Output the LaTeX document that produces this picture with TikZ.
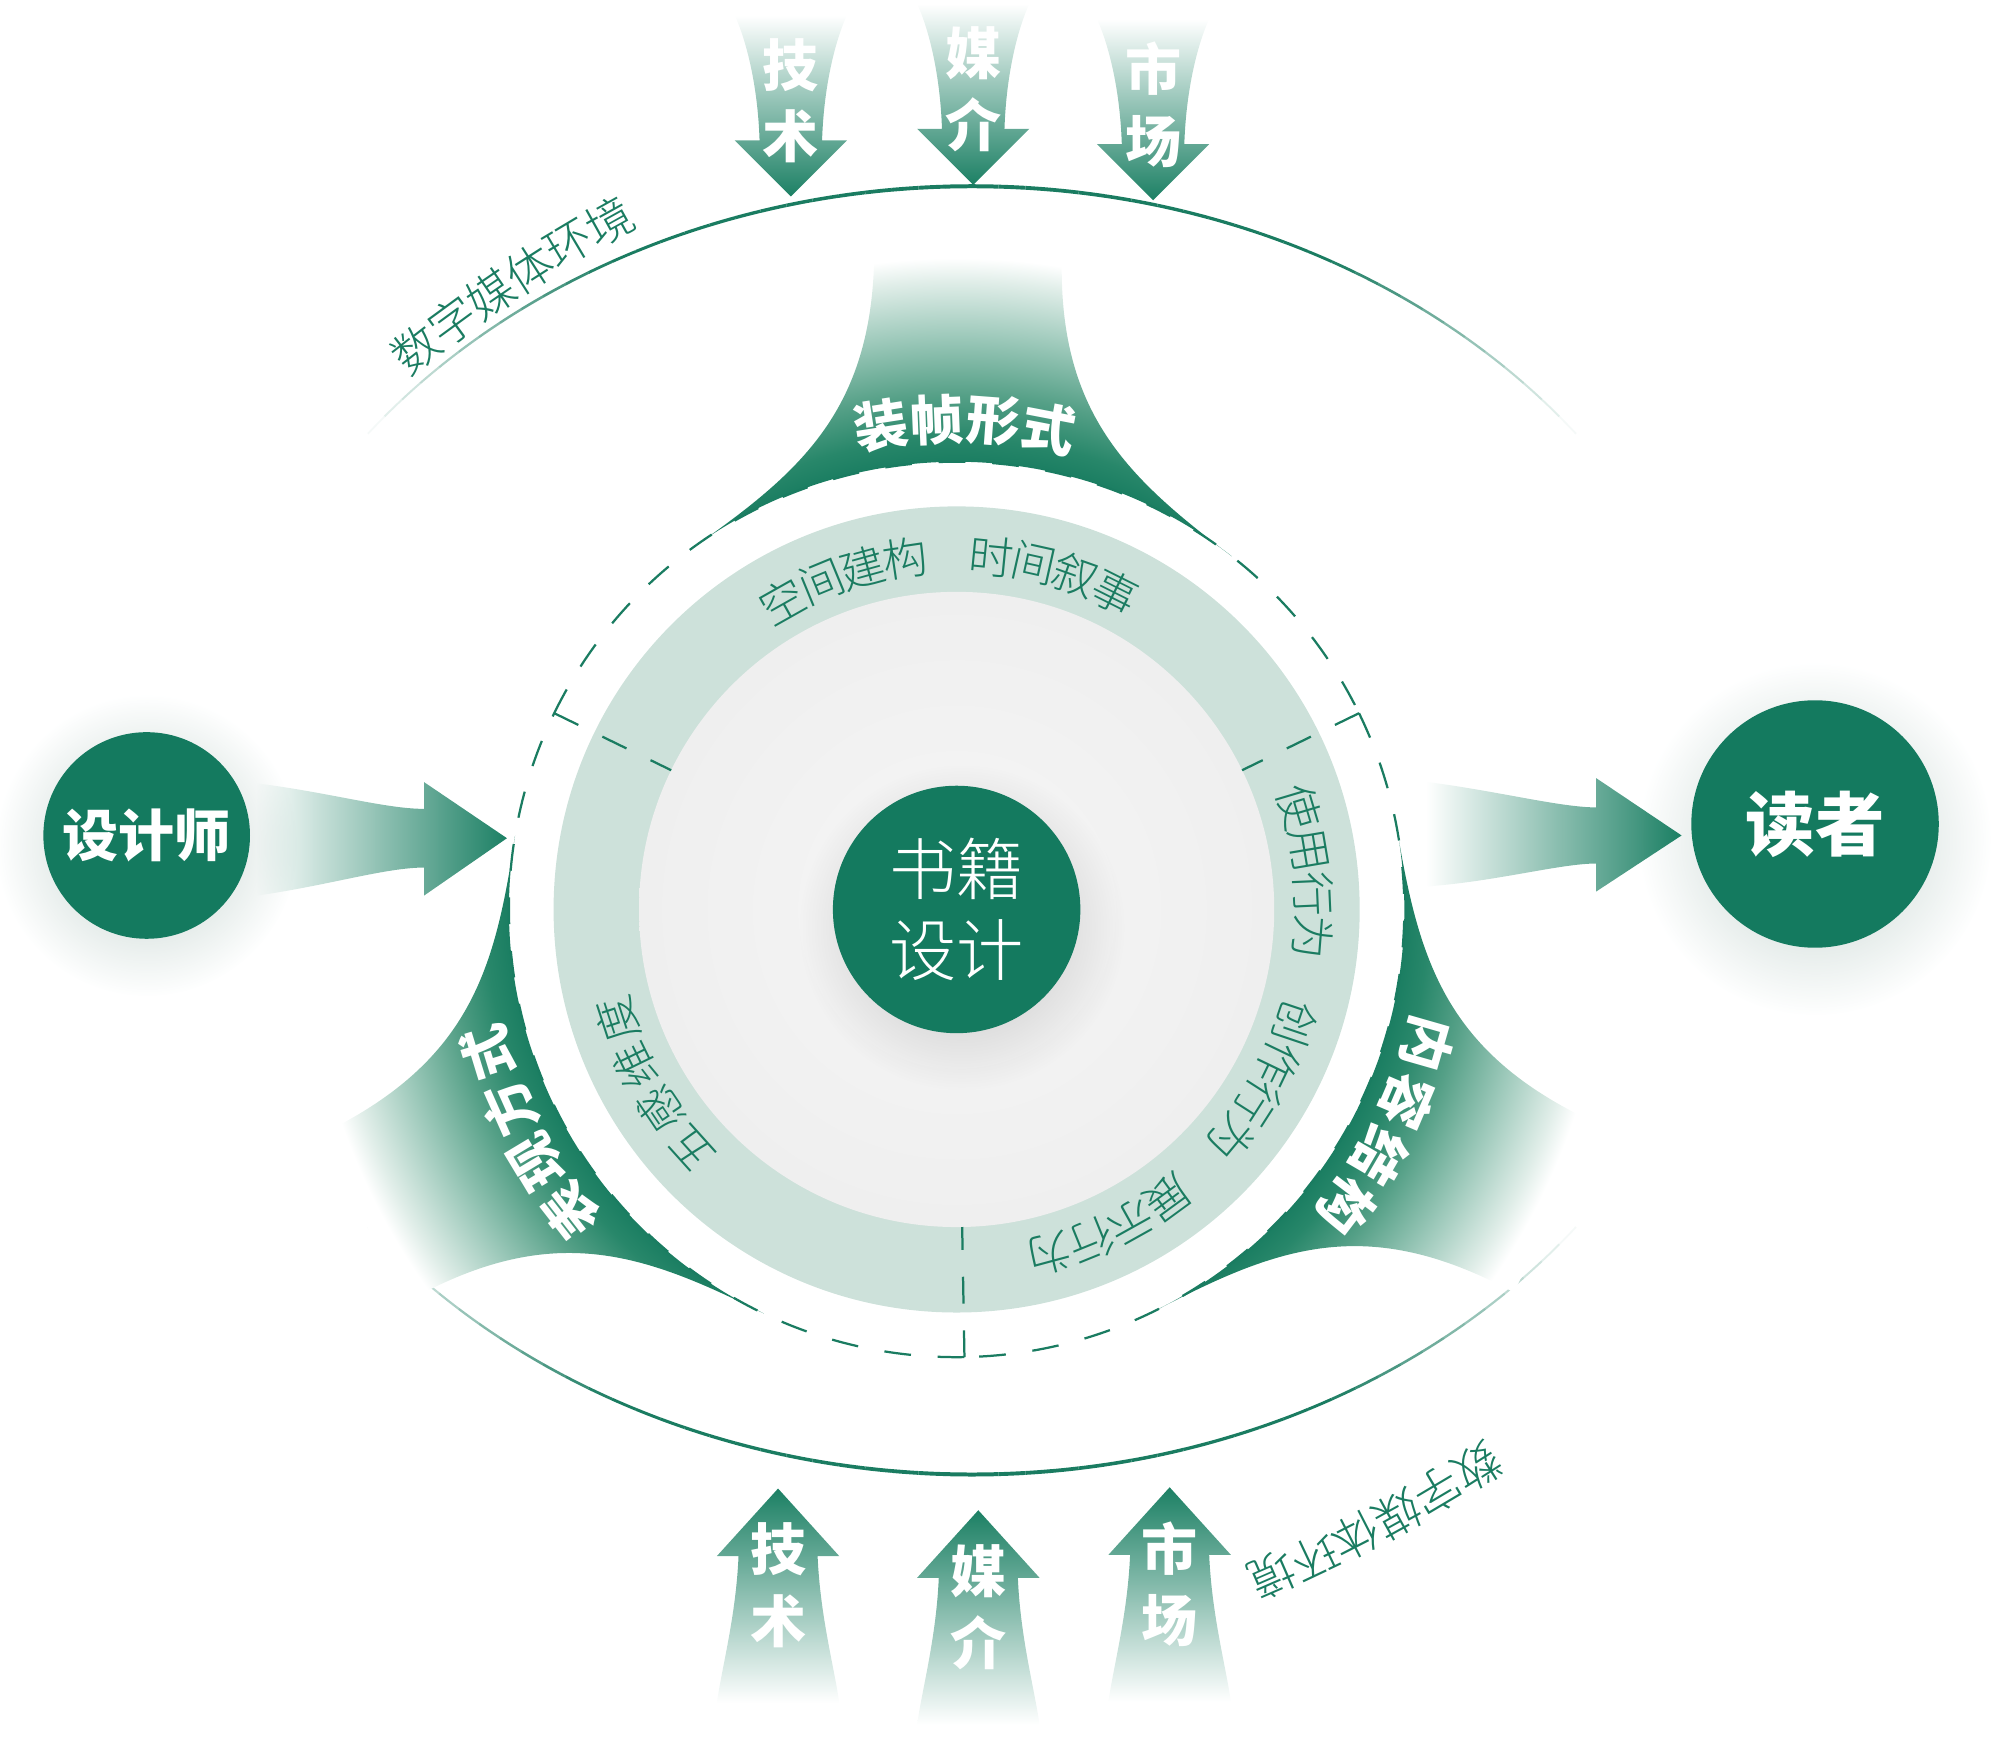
\documentclass[tikz,border=0pt]{standalone}
\usepackage{fontspec}
\setmainfont{Noto Sans CJK SC}
\newfontfamily\cjk{Noto Sans CJK SC}
\newfontfamily\cjklight{Noto Sans CJK SC Light}
\usetikzlibrary{calc,fadings}
\definecolor{hubgreen}{RGB}{20,122,95}
\definecolor{linegreen}{RGB}{26,124,97}
\definecolor{arrowgreen}{RGB}{28,128,100}
\definecolor{ringc}{RGB}{205,225,218}
\definecolor{discin}{RGB}{246,246,246}
\definecolor{discout}{RGB}{239,239,239}
\definecolor{haloc}{RGB}{125,160,150}
\definecolor{fanA}{RGB}{24,124,96}
\definecolor{fanB}{RGB}{40,135,106}
\definecolor{fanC}{RGB}{85,160,135}
\definecolor{fanD}{RGB}{155,200,185}
\definecolor{fanE}{RGB}{225,238,233}
\pgfdeclareradialshading{fanfade}{\pgfpointorigin}{color(0bp)=(fanA); color(15.5bp)=(fanA);
  color(16.5bp)=(fanB); color(18bp)=(fanC); color(20bp)=(fanD); color(22bp)=(fanE);
  color(22.8bp)=(white); color(50bp)=(white)}
\tikzfading[name=halofade, inner color=transparent!0, outer color=transparent!100]
\tikzfading[name=fromleft, left color=transparent!100, right color=transparent!0]
% characters set round a centre, read clockwise, tops outward
\newcommand\arctext[7]{%
  \foreach \ch [count=\k from 0] in {#6}{%
    \pgfmathsetmacro\chang{#3-\k*(#4)}%
    \node[#5, rotate=\chang-90] (#7\k) at ($(#1)+(\chang:#2)$) {\ch};}}

\begin{document}
\begin{tikzpicture}[x=0.1mm, y=0.1mm,
    hub/.style={circle, fill=hubgreen, text=white, inner sep=0pt},
    env/.style={draw=linegreen, line cap=butt},
    envtxt/.style={text=linegreen, inner sep=0pt, font=\cjklight\fontsize{10.5}{10.5}\selectfont},
    ringtxt/.style={text=linegreen, inner sep=0pt, font=\cjklight\fontsize{10}{10}\selectfont},
    fantxt/.style={text=white, inner sep=0pt, font=\cjk\bfseries\fontsize{12}{12}\selectfont},
    arrtxt/.style={text=white, inner sep=0pt, align=center, font=\cjk\bfseries\fontsize{12.5}{16}\selectfont},
    dashline/.style={draw=linegreen, line width=0.5pt, dash pattern=on 2.1mm off 2.1mm}]

  \useasboundingbox (0,0) rectangle (1568,-1369);
  \coordinate (C) at (750,-713);
  \coordinate (E) at (762,-651);
  \coordinate (Q1) at (1039.6,-1187);
  \coordinate (Q2) at (535.3,-172.5);

  % digital media environment
  \foreach \s in {38,40,...,140}{
    \pgfmathsetmacro\dist{abs(\s+1-90)}
    \pgfmathsetmacro\op{min(1,max(0,(52-\dist)/24))}
    \pgfmathsetmacro\lw{0.9-0.5*\dist/52}
    \draw[env, line width=\lw pt, draw opacity=\op] (E) ++(\s:601 and 505)
      arc[start angle=\s, end angle=\s+2, x radius=601, y radius=505];
  }
  \foreach \s in {218,220,...,320}{
    \pgfmathsetmacro\dist{abs(\s+1-270)}
    \pgfmathsetmacro\op{min(1,max(0,(52-\dist)/24))}
    \pgfmathsetmacro\lw{0.9-0.5*\dist/52}
    \draw[env, line width=\lw pt, draw opacity=\op] (E) ++(\s:601 and 505)
      arc[start angle=\s, end angle=\s+2, x radius=601, y radius=505];
  }
  \arctext{Q1}{1159}{128}{1.8}{envtxt}{数,字,媒,体,环,境}{envt}
  \arctext{Q2}{1159}{302.5}{1.8}{envtxt}{数,字,媒,体,环,境}{envb}

  % technology, media, market
  \foreach \tx/\ty/\first/\second [count=\i] in {620/154/技/术, 763/145/媒/介, 904/157/市/场}{
    \begin{scope}[shift={(\tx,-\ty)}]
      \shade[top color=white, bottom color=arrowgreen] (0,0) -- (-44,44) -- (-24.5,44)
        .. controls (-26,90) and (-36,125) .. (-44,142) -- (44,142)
        .. controls (36,125) and (26,90) .. (24.5,44) -- (44,44) -- cycle;
      \node[arrtxt] (down\i) at (0,75) {\first\\\second};
    \end{scope}
  }
  \foreach \tx/\ty/\first/\second [count=\i] in {610/1167/技/术, 767/1184/媒/介, 917/1166/市/场}{
    \begin{scope}[shift={(\tx,-\ty)}]
      \shade[top color=arrowgreen, bottom color=white] (0,0) -- (-48,-53) -- (-31,-53)
        .. controls (-33,-100) and (-44,-140) .. (-48,-168) -- (48,-168)
        .. controls (44,-140) and (33,-100) .. (31,-53) -- (48,-53) -- cycle;
      \node[arrtxt] (up\i) at (0,-76) {\first\\\second};
    \end{scope}
  }

  % three fans
  \foreach \f in {89,207.5,333.5}{
    \begin{scope}
      \clip ($(C)+(\f+37:351)$) .. controls ($(C)+(\f+20:365)$) and ($(C)+(\f+10:400)$) .. ($(C)+(\f+8:530)$)
        -- ($(C)+(\f-8:530)$) .. controls ($(C)+(\f-10:400)$) and ($(C)+(\f-20:365)$) .. ($(C)+(\f-37:351)$)
        arc[start angle=\f-37, end angle=\f+37, radius=351] -- cycle;
      \shade[shading=fanfade] (C) circle (560);
    \end{scope}
  }
  \arctext{C}{384}{98.9}{6.6}{fantxt}{装,帧,形,式}{bind}
  \arctext{C}{384}{218}{7}{fantxt}{表,现,方,式}{expr}
  \arctext{C}{384}{-16}{7.1}{fantxt}{内,容,结,构}{cont}

  % ring and disc
  \fill[ringc] (C) circle (316);
  \shade[inner color=discin, outer color=discout] (C) circle (249);
  \arctext{C}{278}{119.4}{7}{ringtxt}{空,间,建,构,{},时,间,叙,事}{space}
  \arctext{C}{280}{16.6}{7.04}{ringtxt}{使,用,行,为,{},创,作,行,为,{},展,示,行,为}{act}
  \arctext{C}{280}{222}{8}{ringtxt}{五,感,维,度}{sense}

  % dashed frame
  \foreach \a in {154,26,271}
    \draw[dashline] ($(C)+(\a:351)$) -- ($(C)+(\a:249)$);
  \draw[dashline] ($(C)+(154:351)$) arc[start angle=154, end angle=26, radius=351];
  \draw[dashline] ($(C)+(26:351)$) arc[start angle=26, end angle=-89, radius=351];
  \draw[dashline] ($(C)+(271:351)$) arc[start angle=271, end angle=154, radius=351];

  % designer
  \coordinate (dpos) at (115,-655);
  \fill[haloc, fill opacity=.5, path fading=halofade] ($(dpos)+(0,-8)$) circle (118);
  \node[hub, minimum size=16.2mm, font=\cjk\bfseries\fontsize{12.5}{12.5}\selectfont] (designer) at (dpos) {设计师};
  \coordinate (inL) at ($(C)+(171:357)$);
  \begin{scope}[shift={(inL)}]
    \fill[arrowgreen, path fading=fromleft] (-196,43) .. controls (-140,36) and (-95,23) .. (-65,23)
      -- (-65,44) -- (0,0) -- (-65,-45) -- (-65,-23) .. controls (-95,-23) and (-140,-37) .. (-196,-45) -- cycle;
  \end{scope}

  % reader
  \coordinate (rpos) at (1423,-646);
  \fill[haloc, fill opacity=.5, path fading=halofade] ($(rpos)+(0,-12)$) circle (138);
  \node[hub, minimum size=19.4mm, font=\cjk\bfseries\fontsize{15.5}{15.5}\selectfont] (reader) at (rpos) {读者};
  \coordinate (inR) at ($(reader.west)+(-7,-9)$);
  \begin{scope}[shift={(inR)}]
    \fill[arrowgreen, path fading=fromleft] (-200,42) .. controls (-145,35) and (-95,22) .. (-67,22)
      -- (-67,45) -- (0,0) -- (-67,-44) -- (-67,-22) .. controls (-95,-22) and (-145,-36) .. (-200,-40) -- cycle;
  \end{scope}

  % book design
  \fill[black, fill opacity=.22, path fading=halofade] ($(C)+(4,-14)$) circle (128);
  \node[hub, minimum size=19.4mm, align=center, font=\cjklight\fontsize{15}{18}\selectfont] (book) at (C) {书籍\\设计};
\end{tikzpicture}
\end{document}
